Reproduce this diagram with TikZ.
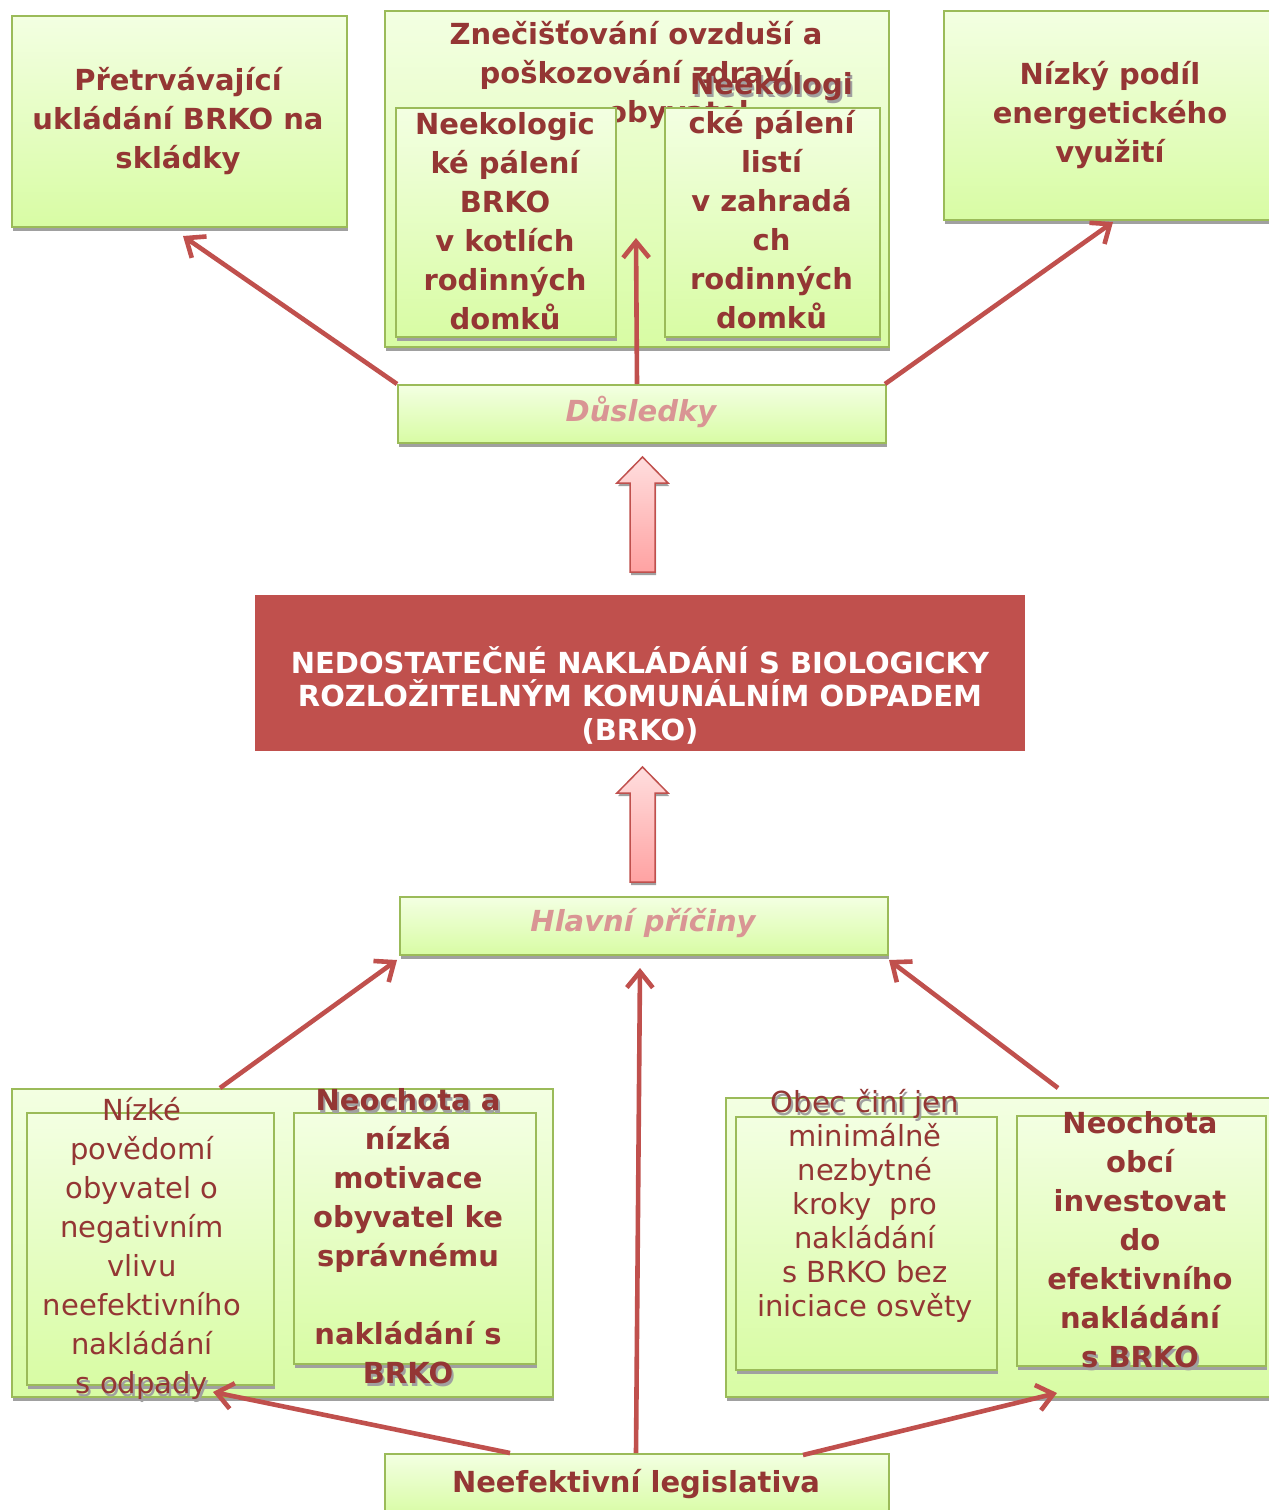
\documentclass[tikz,border=0pt]{standalone}
\usepackage{fontspec}
\setmainfont{DejaVu Sans}
\usetikzlibrary{arrows.meta,shadows}
\definecolor{tred}{HTML}{943634}
\definecolor{tpink}{HTML}{D99594}
\definecolor{gborder}{HTML}{9BBB59}
\definecolor{gtop}{HTML}{F3FFE2}
\definecolor{gbot}{HTML}{D8FCA4}
\definecolor{ared}{HTML}{C0504D}
\definecolor{shgray}{HTML}{A0A0A0}
\definecolor{atop}{HTML}{FFDEDE}
\definecolor{abot}{HTML}{FFA2A2}
\newcommand\txtshd[1]{\makebox[0pt][l]{\hspace{2pt}\raisebox{-3pt}{\textcolor{shgray}{#1}}}#1}
\tikzset{
  sz/.style 2 args={minimum width=#1pt, minimum height=#2pt},
  gbox/.style={draw=gborder, line width=2pt, top color=gtop, bottom color=gbot, inner sep=0pt,
               anchor=north west, general shadow={fill=shgray, shadow xshift=1pt, shadow yshift=-4pt}},
  btxt/.style={text=tred, align=center, inner sep=0pt, font=\fontsize{29}{39}\selectfont\bfseries},
  rtxt/.style={btxt, font=\fontsize{29}{39}\selectfont\mdseries},
  ptxt/.style={text=tpink, inner sep=0pt, font=\fontsize{29}{39}\selectfont\bfseries\itshape},
  wtxt/.style={text=white, align=center, inner sep=0pt, font=\fontsize{29}{33.5}\selectfont\bfseries},
  arr/.style={-{Straight Barb[length=16pt, width=26pt]}, line width=4.6pt, draw=ared},
  blockarr/.style={draw=ared, line width=1.5pt, top color=atop, bottom color=abot,
                   general shadow={fill=shgray, shadow xshift=1pt, shadow yshift=-3pt}},
}
\begin{document}
\begin{tikzpicture}[x=1pt, y=-1pt]
  \useasboundingbox[fill=white] (0,0) rectangle (1269,1510);
  % dusledky
  \node[gbox, sz={335}{211}] (landfill) at (11,15) {};
  \node[btxt] (landfilltxt) at (178,121) {Přetrvávající\\ukládání BRKO na\\skládky};
  \node[gbox, sz={504}{336}] (air) at (384,10) {};
  \node[btxt] (airtxt) at (636,75) {Znečišťování ovzduší a\\poškozování zdraví\\\hspace*{84pt}obyvatel};
  \node[gbox, sz={220}{229}] (boiler) at (395,107) {};
  \node[btxt] (boilertxt) at (505,221) {Neekologic\\ké pálení\\BRKO\\v kotlích\\rodinných\\domků};
  \node[gbox, sz={215}{229}] (leaves) at (664,107) {};
  \node[btxt] (leavestxt) at (771.5,201) {\txtshd{Neekologi}\\cké pálení\\listí\\v zahradá\\ch\\rodinných\\domků};
  \node[gbox, sz={345}{209}] (energy) at (943,10) {};
  \node[btxt] (energytxt) at (1110,115) {Nízký podíl\\energetického\\využití};
  \node[gbox, sz={488}{58}] (dusl) at (397,384) {};
  \node[ptxt] (dusltxt) at (641,412) {Důsledky};
  % problem
  \path[blockarr] (630,572) -- (630,483) -- (617,483) -- (642.5,457) -- (668,483) -- (655,483) -- (655,572) -- cycle;
  \node[fill=ared, inner sep=0pt, anchor=north west, sz={770}{156}] (core) at (255,595) {};
  \node[wtxt] (coretxt) at (640,695) {NEDOSTATEČNÉ NAKLÁDÁNÍ S BIOLOGICKY\\ROZLOŽITELNÝM KOMUNÁLNÍM ODPADEM\\(BRKO)};
  \path[blockarr] (630,882) -- (630,793) -- (617,793) -- (642.5,767) -- (668,793) -- (655,793) -- (655,882) -- cycle;
  % priciny
  \node[gbox, sz={488}{58}] (hlavni) at (399,896) {};
  \node[ptxt] (hlavnitxt) at (643,923) {Hlavní příčiny};
  \node[gbox, sz={541}{308}] (citizens) at (11,1088) {};
  \node[gbox, sz={247}{272}] (aware) at (26,1112) {};
  \node[rtxt] (awaretxt) at (142,1250) {Nízké\\povědomí\\obyvatel o\\negativním\\vlivu\\neefektivního\\nakládání\\\txtshd{s odpady}};
  \node[gbox, sz={242}{251}] (motiv) at (293,1112) {};
  \node[btxt] (motivtxt) at (408,1238) {\txtshd{Neochota a}\\nízká\\motivace\\obyvatel ke\\správnému\\[39pt]nakládání s\\\txtshd{BRKO}};
  \node[gbox, sz={560}{299}] (towns) at (725,1097) {};
  \node[gbox, sz={261}{253}] (minimal) at (735,1116) {};
  \node[rtxt, font=\fontsize{29}{34}\selectfont\mdseries] (minimaltxt) at (865,1206) {\txtshd{Obec činí jen}\\minimálně\\nezbytné\\kroky\ \ pro\\nakládání\\s BRKO bez\\iniciace osvěty};
  \node[gbox, sz={249}{250}] (invest) at (1016,1115) {};
  \node[btxt] (investtxt) at (1140,1241) {Neochota\\obcí\\investovat\\do\\efektivního\\nakládání\\\txtshd{s BRKO}};
  \node[gbox, sz={504}{62}] (legis) at (384,1453) {};
  \node[btxt] (legistxt) at (636,1484) {Neefektivní legislativa};
  % spojnice
  \coordinate (tipA) at (183,236);
  \coordinate (tipB) at (636,238);
  \coordinate (tipC) at (1113,222);
  \coordinate (srcL) at (220,1088);
  \coordinate (tipL) at (397,960);
  \coordinate (tipM) at (640,968);
  \coordinate (srcR) at (1058,1088);
  \coordinate (tipR) at (889,960);
  \coordinate (legisL) at (510,1453);
  \coordinate (legisM) at (636,1453);
  \coordinate (legisR) at (803,1455);
  \coordinate (tipBL) at (213,1392);
  \coordinate (tipBR) at (1057,1393);
  \draw[arr] (dusl.north west) -- (tipA);
  \draw[arr] ([xshift=-5pt]dusl.north) -- (tipB);
  \draw[arr] ([xshift=-2pt]dusl.north east) -- (tipC);
  \draw[arr] (srcL) -- (tipL);
  \draw[arr] (legisM) -- (tipM);
  \draw[arr] (srcR) -- (tipR);
  \draw[arr] (legisL) -- (tipBL);
  \draw[arr] (legisR) -- (tipBR);
\end{tikzpicture}
\end{document}
